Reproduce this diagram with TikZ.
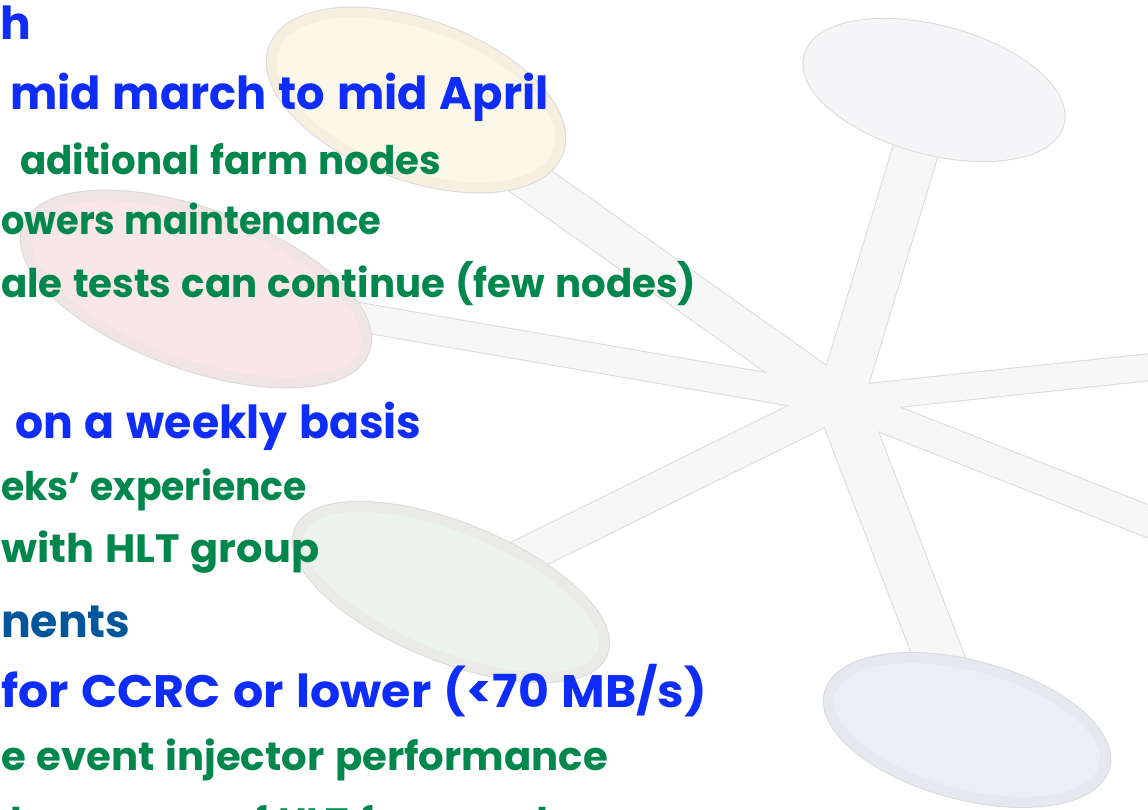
\documentclass[tikz,border=0pt]{standalone}
\usepackage{fontspec}
\setmainfont{Poppins}[WordSpace=1.25]
\usepackage{tikz}
\usetikzlibrary{shapes.geometric}
\definecolor{hiblue}{HTML}{0F2DFA}
\definecolor{higreen}{HTML}{00874B}
\definecolor{deepblue}{HTML}{00579C}
\definecolor{spokefill}{HTML}{F7F7F7}
\definecolor{spokeedge}{HTML}{DADADA}
\definecolor{cremering}{HTML}{F6EFDF}
\definecolor{cremefill}{HTML}{FBF8EA}
\definecolor{rosering}{HTML}{F0E4E4}
\definecolor{rosefill}{HTML}{F9E7E7}
\definecolor{sagering}{HTML}{EAEBE6}
\definecolor{sagefill}{HTML}{ECF3EC}
\definecolor{mistfill}{HTML}{F5F5F8}
\definecolor{slatering}{HTML}{E5E8EE}
\definecolor{slatefill}{HTML}{ECEEF3}
\tikzset{
  bubble/.style 2 args={ellipse,inner sep=0pt,fill=#2,draw=#1,line width=10pt,
    preaction={draw=spokeedge,line width=12pt}},
  rim/.style={line width=#1+2pt,draw=spokeedge,line cap=round},
  spoke/.style={line width=#1,draw=spokefill,line cap=round},
  bigline/.style={font=\fontsize{45.5}{52}\selectfont\bfseries,text=hiblue,
    anchor=base west,inner sep=0pt},
  subline/.style={font=\fontsize{39.5}{46}\selectfont\bfseries,text=higreen,
    anchor=base west,inner sep=0pt},
  headline/.style={bigline,text=deepblue}
}
\newcommand{\squeeze}[2]{\scalebox{#1}[1]{#2}}

\begin{document}
\begin{tikzpicture}[x=1pt,y=-1pt]
  \useasboundingbox (0,0) rectangle (1148,810);
  \clip (0,0) rectangle (1148,810);
  \fill[white] (0,0) rectangle (1148,810);
  % hub and loose ends
  \coordinate (hub) at (840,400);
  \coordinate (rimA) at (1170,365);
  \coordinate (rimB) at (1170,530);
  \coordinate (ptopc) at (416,100);
  \coordinate (pleftc) at (196,289);
  \coordinate (pbotc) at (451,592);
  \coordinate (prtopc) at (934,90);
  \coordinate (prbotc) at (967,730);
  % spokes: edges first, then the fill
  \foreach \e/\w in {ptopc/40pt,pleftc/28pt,pbotc/35pt,prtopc/45pt,prbotc/48pt,rimA/26pt,rimB/30pt}
    \draw[rim=\w] (hub) -- (\e);
  \foreach \e/\w in {ptopc/40pt,pleftc/28pt,pbotc/35pt,prtopc/45pt,prbotc/48pt,rimA/26pt,rimB/30pt}
    \draw[spoke=\w] (hub) -- (\e);
  % bubbles
  \node[bubble={cremering}{cremefill},minimum width=302pt,minimum height=150pt,rotate=-20] (ptop) at (ptopc) {};
  \node[bubble={rosering}{rosefill},minimum width=358pt,minimum height=150pt,rotate=-20] (pleft) at (pleftc) {};
  \node[bubble={sagering}{sagefill},minimum width=326pt,minimum height=128pt,rotate=-22] (pbot) at (pbotc) {};
  \node[bubble={mistfill}{mistfill},minimum width=258pt,minimum height=118pt,rotate=-15] (prtop) at (prtopc) {};
  \node[bubble={slatering}{slatefill},minimum width=284pt,minimum height=128pt,rotate=-15] (prbot) at (prbotc) {};
  % text
  \node[bigline] (t1) at (0,40) {h};
  \node[bigline] (t2) at (10,110) {\squeeze{0.982}{mid march to mid April}};
  \node[subline] (t3) at (20,175) {\squeeze{0.981}{aditional farm nodes}};
  \node[subline] (t4) at (1,235) {\squeeze{0.93}{owers maintenance}};
  \node[subline] (t5) at (1,298) {\squeeze{0.98}{ale tests can continue (few nodes)}};
  \node[bigline] (t6) at (15,438) {\squeeze{0.971}{on a weekly basis}};
  \node[subline] (t7) at (1,500) {\squeeze{0.955}{eks' experience}};
  \node[subline] (t8) at (1,562) {\squeeze{1.05}{with HLT group}};
  \node[headline] (t9) at (1,637) {\squeeze{0.97}{nents}};
  \node[bigline] (t10) at (1,707) {\squeeze{1.043}{for CCRC or lower (<70 MB/s)}};
  \node[subline] (t11) at (1,770) {\squeeze{1.018}{e event injector performance}};
  \node[subline,anchor=base east] (t12) at (595,836) {st with larger use of HLT farm nodes};
\end{tikzpicture}
\end{document}
